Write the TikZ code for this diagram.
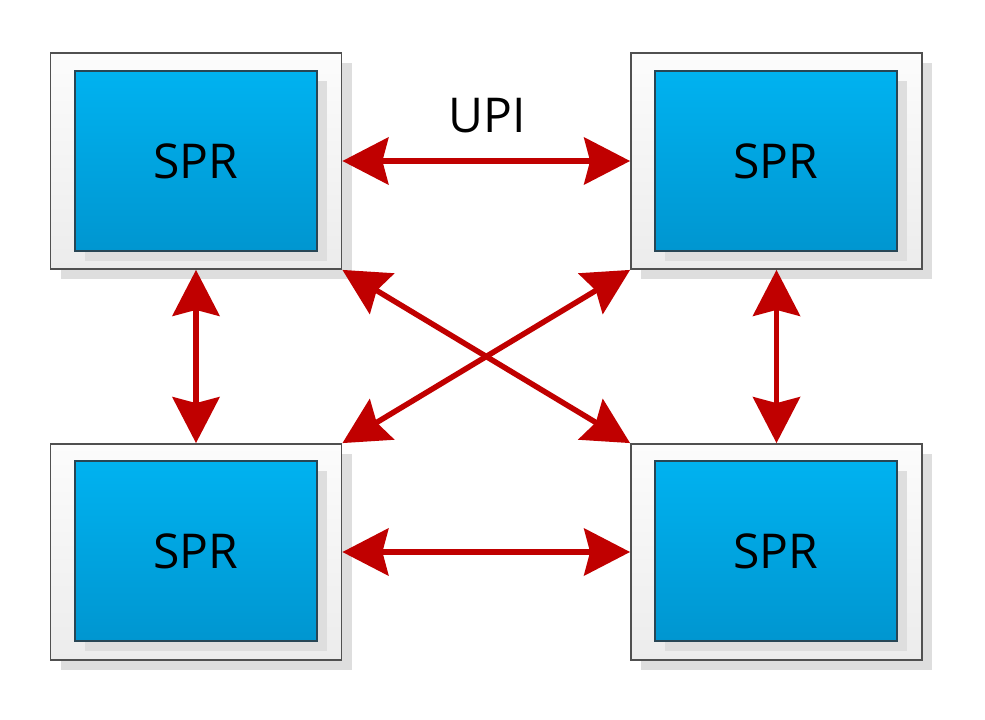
\documentclass[tikz,border=0pt]{standalone}
\usepackage{fontspec}
\setmainfont{Open Sans}
\usetikzlibrary{shadows,arrows.meta}
\definecolor{linkred}{RGB}{192,0,0}
\definecolor{blueTop}{RGB}{0,178,240}
\definecolor{blueBot}{RGB}{0,150,208}
\definecolor{shadowgray}{RGB}{222,222,222}
\tikzset{
  outerbox/.style={draw={rgb,255:red,80;green,80;blue,80}, line width=1.8pt,
    top color={rgb,255:red,252;green,252;blue,252}, bottom color={rgb,255:red,236;green,236;blue,236},
    minimum width=291pt, minimum height=216pt, inner sep=0pt,
    drop shadow={shadow xshift=10pt, shadow yshift=-10pt, fill=shadowgray, opacity=1}},
  cpubox/.style={draw={rgb,255:red,40;green,70;blue,85}, line width=1.4pt,
    top color=blueTop, bottom color=blueBot,
    minimum width=242pt, minimum height=180pt, inner sep=0pt,
    font=\fontsize{48}{50}\selectfont,
    drop shadow={shadow xshift=10pt, shadow yshift=-10pt, fill=shadowgray, opacity=1}},
  upilink/.style={linkred, line width=5.5pt, {Stealth[length=46pt,width=47pt,inset=6pt]}-{Stealth[length=46pt,width=47pt,inset=6pt]}},
  lbl/.style={font=\fontsize{48}{50}\selectfont, inner sep=0pt}
}
\begin{document}
\begin{tikzpicture}[x=1pt,y=-1pt]
\useasboundingbox (0,0) rectangle (985,720);
\node[outerbox] (tl) at (196,161) {};
\node[outerbox] (tr) at (776.5,161) {};
\node[outerbox] (bl) at (196,552) {};
\node[outerbox] (br) at (776.5,552) {};
\node[cpubox] (tli) at (196,161) {SPR};
\node[cpubox] (tri) at (776,161) {SPR};
\node[cpubox] (bli) at (196,551) {SPR};
\node[cpubox] (bri) at (776,551) {SPR};
\draw[upilink] (tl.east) -- (tr.west);
\draw[upilink] (bl.east) -- (br.west);
\draw[upilink] (tl.south) -- (bl.north);
\draw[upilink] (tr.south) -- (br.north);
\draw[upilink] (tl.south east) -- (br.north west);
\draw[upilink] (bl.north east) -- (tr.south west);
\node[lbl] (upi) at (487,116) {UPI};
\end{tikzpicture}
\end{document}
